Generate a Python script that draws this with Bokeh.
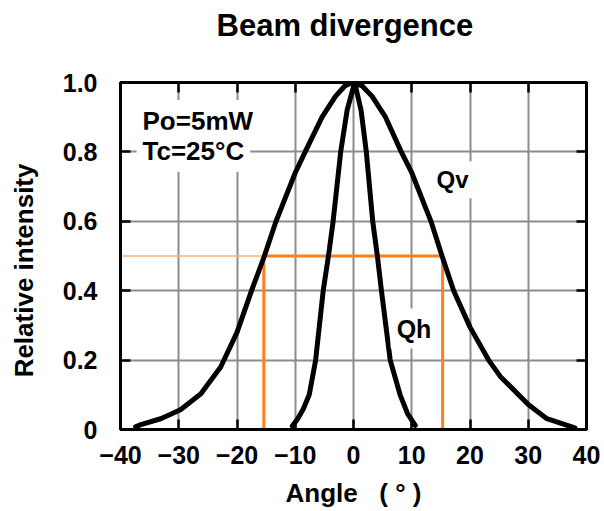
from bokeh.plotting import figure
from bokeh.models import Label, LinearAxis, FixedTicker, Range1d
from bokeh.embed import file_html
from bokeh.resources import INLINE

# ---- data ----
x_ticks = [-40, -30, -20, -10, 0, 10, 20, 30, 40]
y_ticks = [0, 0.2, 0.4, 0.6, 0.8, 1.0]

qv_angle = [-37.4, -36.5, -33.1, -29.7, -26.2, -22.8, -20.0, -17.5, -15.3, -13.3, -10.0, -8.3,
            -5.4, -3.1, -1.5, -0.2, 1.5, 3.2, 5.5, 8.2, 10.0, 13.3, 15.2, 17.2, 20.0, 23.2,
            25.2, 30.0, 33.2, 36.7, 38.0]
qv_int = [0.008, 0.014, 0.031, 0.057, 0.103, 0.18, 0.28, 0.40, 0.50, 0.60, 0.74, 0.80,
          0.90, 0.96, 0.99, 1.0, 0.99, 0.96, 0.90, 0.80, 0.74, 0.60, 0.50, 0.40, 0.295, 0.20,
          0.153, 0.072, 0.031, 0.012, 0.005]

qh_angle = [-10.5, -9.6, -8.6, -7.6, -6.5, -5.2, -4.3, -3.5, -2.2, -1.1, 0.2,
            1.3, 2.2, 3.3, 4.1, 4.8, 6.3, 8.0, 9.3, 10.6]
qh_int = [0.01, 0.03, 0.06, 0.10, 0.20, 0.40, 0.50, 0.60, 0.80, 0.92, 1.0,
          0.92, 0.80, 0.60, 0.50, 0.40, 0.20, 0.10, 0.045, 0.012]

half_level = 0.5
fwhm_left = -15.4
fwhm_right = 15.3

FONT = "Liberation Sans"

p = figure(width=604, height=511, output_backend="svg", toolbar_location=None,
           x_range=Range1d(-40, 40), y_range=Range1d(0, 1), title=None)
p.min_border_left = 120
p.min_border_right = 18
p.min_border_top = 82
p.min_border_bottom = 82
p.background_fill_color = "white"
p.border_fill_color = "white"
p.outline_line_color = "black"
p.outline_line_width = 3

xt = FixedTicker(ticks=x_ticks)
yt = FixedTicker(ticks=y_ticks)
p.xaxis.ticker = xt
p.yaxis.ticker = yt
p.xgrid.ticker = xt
p.ygrid.ticker = yt
for g in (p.xgrid, p.ygrid):
    g.grid_line_color = "#8c8c8c"
    g.grid_line_width = 2

for ax in (p.xaxis[0], p.yaxis[0]):
    ax.axis_line_width = 3
    ax.axis_line_color = "black"
    ax.major_tick_in = 10
    ax.major_tick_out = 0
    ax.major_tick_line_width = 2.5
    ax.minor_tick_line_color = None
    ax.major_label_text_font = FONT
    ax.major_label_text_font_style = "bold"
    ax.major_label_text_font_size = "25px"
    ax.major_label_text_color = "black"
    ax.axis_label_text_font = FONT
    ax.axis_label_text_font_style = "bold"
    ax.axis_label_text_font_size = "26px"
    ax.axis_label_text_color = "black"
p.xaxis.major_label_standoff = 16
p.yaxis.major_label_standoff = 23
p.yaxis.major_label_overrides = {0: "0", 1: "1.0"}
p.xaxis.axis_label = "Angle\u00a0\u00a0\u00a0(\u00a0°\u00a0)"
p.xaxis.axis_label_standoff = 11
p.yaxis.axis_label = "Relative intensity\u00a0\u00a0\u00a0\u00a0"
p.yaxis.axis_label_standoff = 21

# top and right axes (ticks only); the chart title sits on the top axis
top = LinearAxis(ticker=xt)
right = LinearAxis(ticker=yt)
for ax in (top, right):
    ax.axis_line_width = 3
    ax.major_tick_in = 10
    ax.major_tick_out = 0
    ax.major_tick_line_width = 2.5
    ax.minor_tick_line_color = None
    ax.major_label_text_font_size = "0px"
    ax.major_label_text_alpha = 0
    ax.major_label_standoff = 0
top.axis_label = "Beam divergence\u00a0\u00a0"
top.axis_label_text_font = FONT
top.axis_label_text_font_style = "bold"
top.axis_label_text_font_size = "31px"
top.axis_label_text_color = "black"
top.axis_label_standoff = 40
p.add_layout(top, "above")
p.add_layout(right, "right")

# orange FWHM guide
p.line([-40, fwhm_left], [half_level, half_level], line_color="#fbb07a", line_width=1.5)
p.line([fwhm_left, fwhm_left, fwhm_right, fwhm_right], [0, half_level, half_level, 0],
       line_color="#ff7f1e", line_width=3)

# curves
p.line(qv_angle, qv_int, line_color="black", line_width=5, line_join="round", line_cap="round")
p.line(qh_angle, qh_int, line_color="black", line_width=5, line_join="round", line_cap="round")

def lab(text, x, y, size, align="left", pad=6):
    p.add_layout(Label(x=x, y=y, text=text, text_font=FONT, text_font_style="bold",
                       text_font_size=size, text_color="black", text_align=align,
                       text_baseline="middle", background_fill_color="white", padding=pad))

lab("Po=5mW", -37.25, 0.889, "26px")
lab("Tc=25°C", -37.25, 0.803, "26px")
lab("Qv", 17.0, 0.72, "24px", align="center", pad=5)
lab("Qh", 10.39, 0.291, "25px", align="center")

open("out.html", "w").write(file_html(p, INLINE))
